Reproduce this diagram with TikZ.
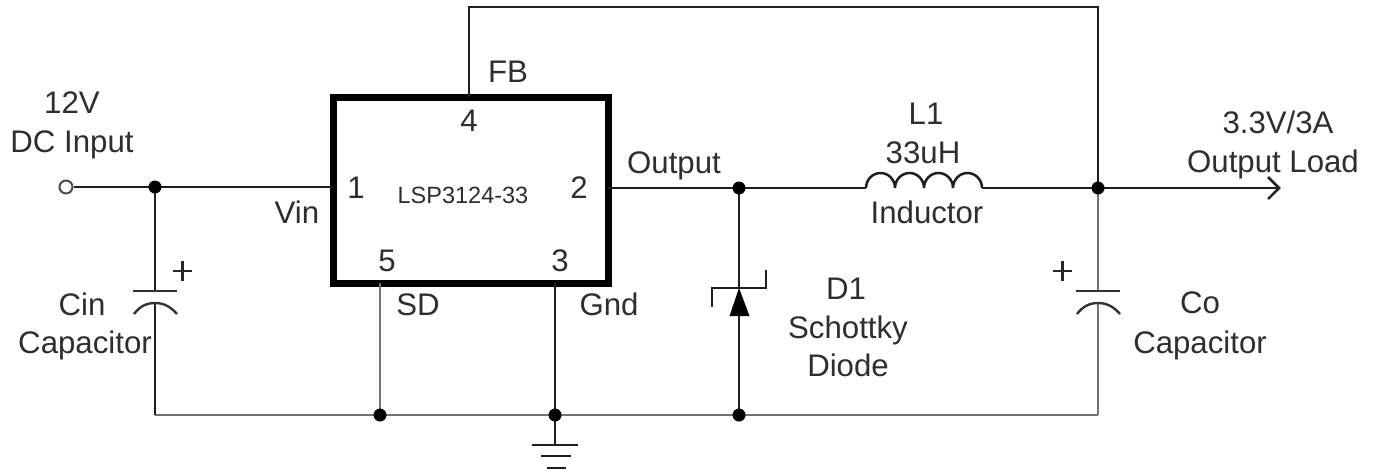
\documentclass[tikz,border=0pt]{standalone}
\usepackage{fontspec}
\setmainfont{Liberation Sans}
\usetikzlibrary{arrows.meta}
\tikzset{
  lab/.style={anchor=base,inner sep=0pt,text=black!82,font=\fontsize{31.2}{32}\selectfont},
  smalllab/.style={lab,font=\fontsize{23.5}{24}\selectfont},
  wire/.style={line width=2.5pt,draw=black!88},
  graywire/.style={line width=2.7pt,draw=black!55},
  plate/.style={line width=2.4pt,draw=black!80},
  dot/.style={circle,fill=black,inner sep=0pt,minimum size=13pt},
  term/.style={circle,draw=black!70,fill=white,line width=2pt,inner sep=0pt,minimum size=13pt},
  chip/.style={draw=black,line width=7pt,fill=white,inner sep=0pt,minimum width=275pt,minimum height=186pt},
}
\begin{document}
\begin{tikzpicture}[x=1pt,y=-1pt]
\useasboundingbox[fill=white] (0,0) rectangle (1380,472);
% chip
\node[chip] (U) at (470.5,190) {};
% anchors on the chip
\coordinate (pin1) at (333,187);
\coordinate (pin2) at (608,188);
\coordinate (pin4) at (469,97);
\coordinate (pin5) at (380,283);
\coordinate (pin3) at (555,283);
% junctions
\coordinate (inC) at (155,187);
\coordinate (outN) at (739,188);
\coordinate (loadN) at (1098,188);
\coordinate (b1) at (155,415);
\coordinate (b2) at (380,415);
\coordinate (b3) at (555,415);
\coordinate (b4) at (739,415);
\coordinate (b5) at (1098,415);
\coordinate (tl) at (469,7);
\coordinate (tr) at (1098,7);
\coordinate (loadEnd) at (1279,188);
\coordinate (indL) at (866,188);
\coordinate (indR) at (982,188);
\coordinate (cinT) at (155,291);
\coordinate (cinB) at (155,303);
\coordinate (coT) at (1098,291);
\coordinate (coB) at (1098,303);
\coordinate (dA) at (739,316);
\coordinate (dK) at (739,288);
\coordinate (g0) at (555,445);
\node[term] (vin) at (66,187) {};
% gray wires
\draw[graywire] (b1) -- (b5);
\draw[graywire] (pin5) -- (b2);
\draw[graywire] (b5) -- (coB);
\draw[graywire] (coT) -- (loadN);
% black wires
\draw[wire] (vin) -- (inC) -- (pin1);
\draw[wire] (inC) -- (cinT);
\draw[wire] (cinB) -- (b1);
\draw[wire] (pin4) -- (tl) -- (tr) -- (loadN);
\draw[wire] (pin2) -- (outN) -- (indL);
\draw[wire] (indR) -- (loadN) -- (loadEnd);
\draw[wire] (outN) -- (dK);
\draw[wire] (dA) -- (b4);
\draw[wire] (pin3) -- (b3) -- (g0);
% loadarrow barbs
\draw[wire,line join=miter] ([shift={(-11,-11)}]loadEnd) -- (loadEnd) -- ([shift={(-11,11)}]loadEnd);
% inductor
\draw[wire] (indL) arc[start angle=180,end angle=0,x radius=14.5pt,y radius=15pt]
  arc[start angle=180,end angle=0,x radius=14.5pt,y radius=15pt]
  arc[start angle=180,end angle=0,x radius=14.5pt,y radius=15pt]
  arc[start angle=180,end angle=0,x radius=14.5pt,y radius=15pt];
% capacitors
\draw[plate] ([xshift=-22pt]cinT) -- ([xshift=22pt]cinT);
\draw[plate] (134,314) .. controls (140,306) and (147,303) .. (cinB) .. controls (163,303) and (170,306) .. (177,314);
\draw[plate] ([xshift=-22pt]coT) -- ([xshift=22pt]coT);
\draw[plate] (1077,314) .. controls (1083,306) and (1090,303) .. (coB) .. controls (1106,303) and (1113,306) .. (1120,314);
% diode
\fill[black] (dK) -- (729.5,316) -- (749.5,316) -- cycle;
\draw[wire] (712,307) -- (712,288) -- (766,288) -- (766,270);
% ground
\draw[wire] (532,445) -- (578,445);
\draw[wire] (541,456) -- (571,456);
\draw[wire] (547,468) -- (566,468);
% dots
\node[dot] (dInC) at (inC) {};
\node[dot] (dOut) at (outN) {};
\node[dot] (dLoad) at (loadN) {};
\node[dot] (dB2) at (b2) {};
\node[dot] (dB3) at (b3) {};
\node[dot] (dB4) at (b4) {};
% plus signs
\draw[line width=2.2pt,draw=black!85] (173,271) -- (192,271) (182.5,261) -- (182.5,281);
\draw[line width=2.2pt,draw=black!85] (1053,271) -- (1072,271) (1062.5,261) -- (1062.5,281);
% texts
\node[lab] (t1) at (72,113) {12V};
\node[lab] (t2) at (72,152) {DC Input};
\node[lab] (t3) at (297,223) {Vin};
\node[lab] (t4) at (82,315) {Cin};
\node[lab] (t5) at (85,353) {Capacitor};
\node[lab] (t6) at (508,82) {FB};
\node[lab] (t7) at (469,131) {4};
\node[lab] (t8) at (356,198) {1};
\node[smalllab] (t9) at (463,203) {LSP3124-33};
\node[lab] (t10) at (579,198) {2};
\node[lab] (t11) at (387,271) {5};
\node[lab] (t12) at (560,271) {3};
\node[lab] (t13) at (418,315) {SD};
\node[lab] (t14) at (609,315) {Gnd};
\node[lab] (t15) at (674,173) {Output};
\node[lab] (t16) at (926,124) {L1};
\node[lab] (t17) at (923,163) {33uH};
\node[lab] (t18) at (927,223) {Inductor};
\node[lab] (t19) at (846,299) {D1};
\node[lab] (t20) at (848,338) {Schottky};
\node[lab] (t21) at (848,376) {Diode};
\node[lab] (t22) at (1278,133) {3.3V/3A};
\node[lab] (t23) at (1273,172) {Output Load};
\node[lab] (t24) at (1200,313) {Co};
\node[lab] (t25) at (1200,353) {Capacitor};
\end{tikzpicture}
\end{document}
